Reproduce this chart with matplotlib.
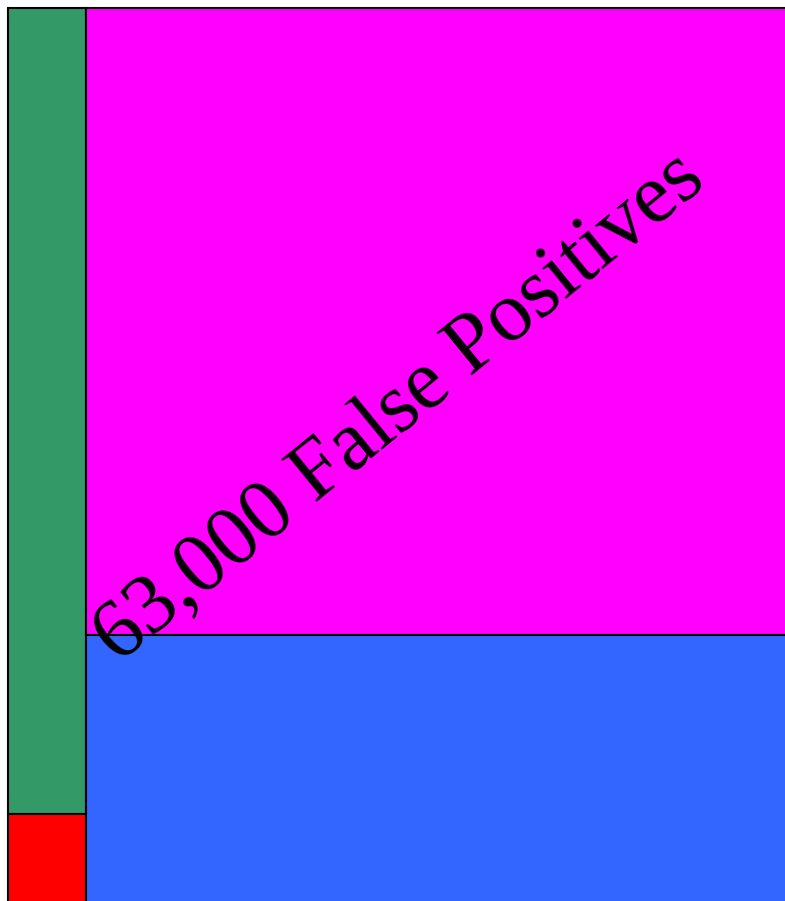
import matplotlib
matplotlib.use("Agg")
import matplotlib.pyplot as plt

# Mosaic data (visible portion, in chart units)
column_labels = ["Condition", "No condition"]
column_widths = [78, 760]
upper_heights = [806, 627]
lower_heights = [150, 320]
upper_colors = ["#339966", "#FF00FF"]
lower_colors = ["#FF0000", "#3366FF"]
annotation = "63,000 False Positives"

fig = plt.figure(figsize=(7.85, 9.01), dpi=100)
ax = fig.add_axes([0, 0, 1, 1])
ax.set_xlim(-8, 777)
ax.set_ylim(893, -8)
ax.axis("off")

left = 0
for w, hu, hl, cu, cl in zip(column_widths, upper_heights, lower_heights,
                             upper_colors, lower_colors):
    ax.bar(left, hu, width=w, bottom=0, align="edge", color=cu,
           edgecolor="black", linewidth=1.5)
    ax.bar(left, hl, width=w, bottom=hu, align="edge", color=cl,
           edgecolor="black", linewidth=1.5)
    left += w

ax.text(110, 656, annotation, rotation=39.2, rotation_mode="anchor",
        ha="left", va="baseline", fontsize=61, family="Liberation Serif",
        color="black")

fig.savefig("out.png", dpi=100)
